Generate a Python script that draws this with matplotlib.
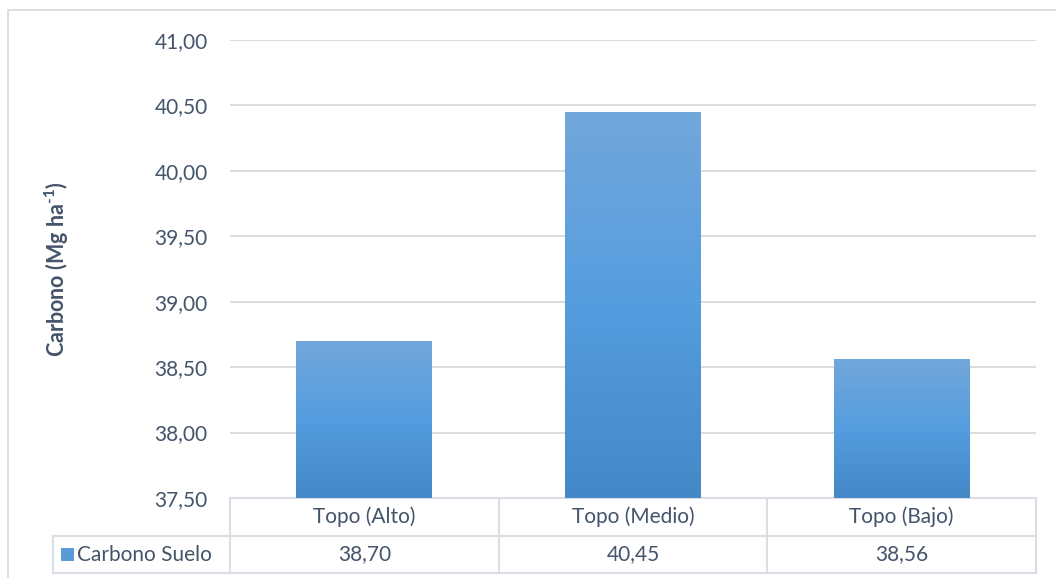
import matplotlib
matplotlib.use("Agg")
import matplotlib.pyplot as plt
import matplotlib.transforms as mtransforms
from matplotlib.colors import LinearSegmentedColormap
from matplotlib.patches import Rectangle
import numpy as np

plt.rcParams["font.family"] = ["Lato", "DejaVu Sans"]
plt.rcParams["mathtext.fontset"] = "custom"
plt.rcParams["mathtext.rm"] = "Lato:bold"
plt.rcParams["mathtext.bf"] = "Lato:bold"

categories = ["Topo (Alto)", "Topo (Medio)", "Topo (Bajo)"]
values = [38.70, 40.45, 38.56]
series_name = "Carbono Suelo"
yticks = [37.5, 38.0, 38.5, 39.0, 39.5, 40.0, 40.5, 41.0]

text_col = "#44546a"
grid_col = "#d9d9d9"
line_col = "#dadee5"
fs = 15

def fmt(v):
    return f"{v:.2f}".replace(".", ",")

fig = plt.figure(figsize=(10.56, 5.78), dpi=100)
ax = fig.add_axes([0.2178, 0.1384, 0.7633, 0.7924])

x = np.arange(len(categories))
bars = ax.bar(x, values, width=0.505, bottom=0, color="none", zorder=2)

# gradient fill, clipped to each bar
cmap = LinearSegmentedColormap.from_list("g", ["#4488c7", "#559ddf", "#72a7db"])
grad = np.linspace(0, 1, 256).reshape(-1, 1)
for b in bars:
    im = ax.imshow(grad, cmap=cmap, origin="lower", aspect="auto",
                   extent=[b.get_x(), b.get_x() + b.get_width(), 37.5, b.get_height()],
                   zorder=2)
    im.set_clip_path(b)
ax.set_xlim(-0.5, len(categories) - 0.5)
ax.set_ylim(37.5, 41.0)

ax.set_yticks(yticks)
ax.set_yticklabels([fmt(v) for v in yticks], fontsize=fs, color=text_col)
ax.tick_params(axis="y", length=0, pad=16)
ax.set_xticks([])
ax.yaxis.grid(True, color=grid_col, lw=1.3)
ax.set_axisbelow(True)
for s in ax.spines.values():
    s.set_visible(False)

ax.set_ylabel(r"Carbono (Mg ha$^{\text{-}1}$)", fontsize=15.5, fontweight="bold",
              color=text_col, labelpad=0)
ax.yaxis.set_label_coords(-0.197, 0.5)

# data table
tr = mtransforms.blended_transform_factory(ax.transData, ax.transAxes)
r1, r2 = -0.083, -0.164
leg_x = -0.2196
kw = dict(color=line_col, lw=1.5, clip_on=False, zorder=1)
ax.plot([-0.5, 2.5], [0, 0], transform=tr, **kw)
ax.plot([-0.5, 2.5], [r1, r1], transform=tr, **kw)
ax.plot([-0.5, 2.5], [r2, r2], transform=tr, **kw)
for xb in [0.5, 1.5, 2.5]:
    ax.plot([xb, xb], [0, r2], transform=tr, **kw)
ax.plot([0, 0], [0, r2], transform=ax.transAxes, **kw)
ax.plot([leg_x, 0], [r1, r1], transform=ax.transAxes, **kw)
ax.plot([leg_x, 0], [r2, r2], transform=ax.transAxes, **kw)
ax.plot([leg_x, leg_x], [r1, r2], transform=ax.transAxes, **kw)

for xi, c, v in zip(x, categories, values):
    ax.text(xi, r1 / 2, c, transform=tr, ha="center", va="center",
            fontsize=fs, color=text_col)
    ax.text(xi, (r1 + r2) / 2, fmt(v), transform=tr, ha="center", va="center",
            fontsize=fs, color=text_col)

ax.add_patch(Rectangle((leg_x + 0.0099, (r1 + r2) / 2 - 0.0142), 0.0161, 0.0284,
                       transform=ax.transAxes, facecolor="#5b9bd5", edgecolor="none",
                       clip_on=False))
ax.text(leg_x + 0.0298, (r1 + r2) / 2, series_name, transform=ax.transAxes,
        ha="left", va="center", fontsize=fs, color=text_col)

# chart area border
fig.add_artist(Rectangle((8 / 1056, -0.1), 1.2, 1.1 - 10 / 578,
                         transform=fig.transFigure, facecolor="none",
                         edgecolor="#d9d9d9", lw=1.2))

fig.savefig("out.png", dpi=100)
